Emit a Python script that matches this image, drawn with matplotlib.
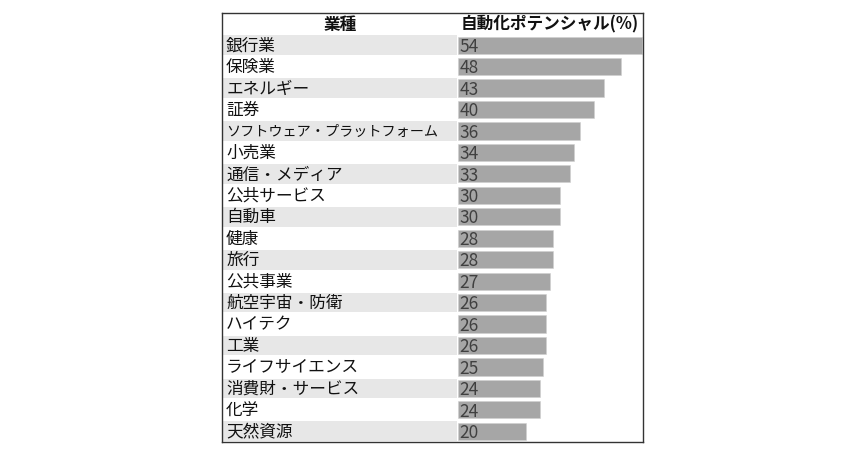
import matplotlib
matplotlib.use("Agg")
from matplotlib import pyplot as plt

plt.rcParams['font.family'] = ['Noto Sans CJK JP', 'DejaVu Sans']

industries = ["銀行業", "保険業", "エネルギー", "証券", "ソフトウェア・プラットフォーム",
              "小売業", "通信・メディア", "公共サービス", "自動車", "健康", "旅行",
              "公共事業", "航空宇宙・防衛", "ハイテク", "工業", "ライフサイエンス",
              "消費財・サービス", "化学", "天然資源"]
potential = [54, 48, 43, 40, 36, 34, 33, 30, 30, 28, 28, 27, 26, 26, 26, 25, 24, 24, 20]
header_left = "業種"
header_right = "自動化ポテンシャル(%)"

W, H = 865, 450
fig = plt.figure(figsize=(W / 100, H / 100), dpi=100)
x0, x1, y0, y1 = 222, 643, 13, 442
ax = fig.add_axes([x0 / W, 1 - y1 / H, (x1 - x0) / W, (y1 - y0) / H])

left_lim = -69.4
right_lim = 54.4
ax.set_xlim(left_lim, right_lim)
ax.set_ylim(len(industries) + 0.5, -0.5)

rows = list(range(1, len(industries) + 1))

# shaded bands in the label column, every other row
for i, r in enumerate(rows):
    if i % 2 == 0:
        ax.barh(r, -0.35 - left_lim, left=left_lim, height=0.92,
                color="#e7e7e7", linewidth=0)

ax.barh(rows, potential, left=0, height=0.8, color="#a6a6a6",
        edgecolor="#d0d0d0", linewidth=0.4)

renderer = fig.canvas.get_renderer()
max_w = 212  # px available for a label
for r, name, v in zip(rows, industries, potential):
    t = ax.text(left_lim + 1.2, r + 0.05, name, fontsize=12, va="center",
                ha="left", color="#111111")
    w = t.get_window_extent(renderer).width
    if w > max_w:
        t.set_fontsize(12 * max_w / w)
    ax.text(0.4, r + 0.08, str(v), fontsize=12.5, va="center", ha="left",
            color="#404040")

ax.text((left_lim + 0) / 2, 0.05, header_left, fontsize=12, fontweight="bold",
        ha="center", va="center", color="#111111")
ax.text((0 + right_lim) / 2 - 0.3, 0.05, header_right, fontsize=12,
        fontweight="bold", ha="center", va="center", color="#111111")

ax.set_xticks([])
ax.set_yticks([])
for s in ax.spines.values():
    s.set_color("#333333")
    s.set_linewidth(1.0)

fig.savefig("out.png", dpi=100)
